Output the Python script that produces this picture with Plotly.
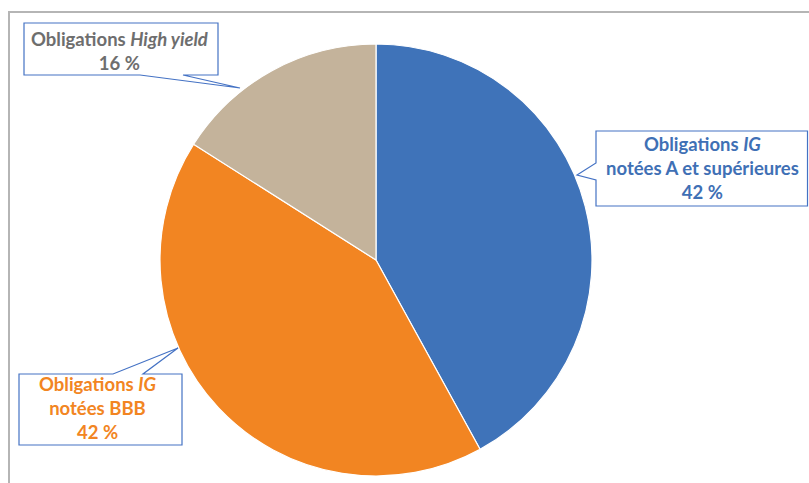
import plotly.graph_objects as go

OFF = 0
W, H = 809, 483

categories = ["Obligations IG notées A et supérieures", "Obligations IG notées BBB", "Obligations High yield"]
values = [42, 42, 16]
colors = ["#3F73B9", "#F28522", "#C4B39B"]
text_colors = ["#3F70B5", "#F28522", "#6E6E6E"]
label_html = [
    "Obligations <i>IG</i><br>notées A et supérieures<br>42 %",
    "Obligations <i>IG</i><br>notées BBB<br>42 %",
    "Obligations <i>High yield</i><br>16 %",
]

def px(x):
    return (x - OFF) / W

def py(y):
    return 1 - (y - OFF) / H

def path(points):
    return "M " + " L ".join(f"{px(x)},{py(y)}" for x, y in points) + " Z"

fig = go.Figure(go.Pie(
    labels=categories,
    values=values,
    sort=False,
    direction="clockwise",
    rotation=0,
    marker=dict(colors=colors, line=dict(color="white", width=1.2)),
    textinfo="none",
    hoverinfo="label+percent",
    showlegend=False,
    domain=dict(x=[px(160), px(592)], y=[py(476), py(44)]),
))

shapes = []
# chart border (top and left)
shapes.append(dict(type="line", xref="paper", yref="paper", x0=px(8), x1=px(809), y0=py(12), y1=py(12),
                   line=dict(color="#B5B5B5", width=2)))
shapes.append(dict(type="line", xref="paper", yref="paper", x0=px(9), x1=px(9), y0=py(11), y1=py(483),
                   line=dict(color="#B5B5B5", width=2)))

box_line = dict(color="#4472C4", width=1.2)
# High yield callout
shapes.append(dict(type="path", xref="paper", yref="paper", fillcolor="white", line=box_line,
                   path=path([(24, 23), (218, 23), (218, 75), (183, 75), (240, 88), (140, 75), (24, 75)])))
# Right (A et supérieures) callout
shapes.append(dict(type="path", xref="paper", yref="paper", fillcolor="white", line=box_line,
                   path=path([(596, 131), (807.5, 131), (807.5, 206), (596, 206), (596, 180), (577, 175), (596, 163)])))
# BBB callout
shapes.append(dict(type="path", xref="paper", yref="paper", fillcolor="white", line=box_line,
                   path=path([(19, 374), (113, 374), (178, 348), (143, 374), (182, 374), (182, 445), (19, 445)])))

font_family = "Lato, 'Open Sans', sans-serif"
annotations = [
    dict(x=px(702), y=py(168), text=label_html[0], font=dict(color=text_colors[0])),
    dict(x=px(97), y=py(408), text=label_html[1], font=dict(color=text_colors[1])),
    dict(x=px(120), y=py(51), text=label_html[2], font=dict(color=text_colors[2])),
]
for a in annotations:
    a.update(xref="paper", yref="paper", showarrow=False, align="center",
             xanchor="center", yanchor="middle")
    a["text"] = "<b>" + a["text"] + "</b>"
    a["font"].update(family=font_family, size=18.5)

fig.update_layout(
    width=W, height=H,
    margin=dict(l=0, r=0, t=0, b=0),
    paper_bgcolor="white",
    plot_bgcolor="white",
    shapes=shapes,
    annotations=annotations,
)

fig.write_html(
    "out.html",
    config={"displayModeBar": False},
    post_script="document.body.style.margin='0';document.body.style.overflow='hidden';",
)
